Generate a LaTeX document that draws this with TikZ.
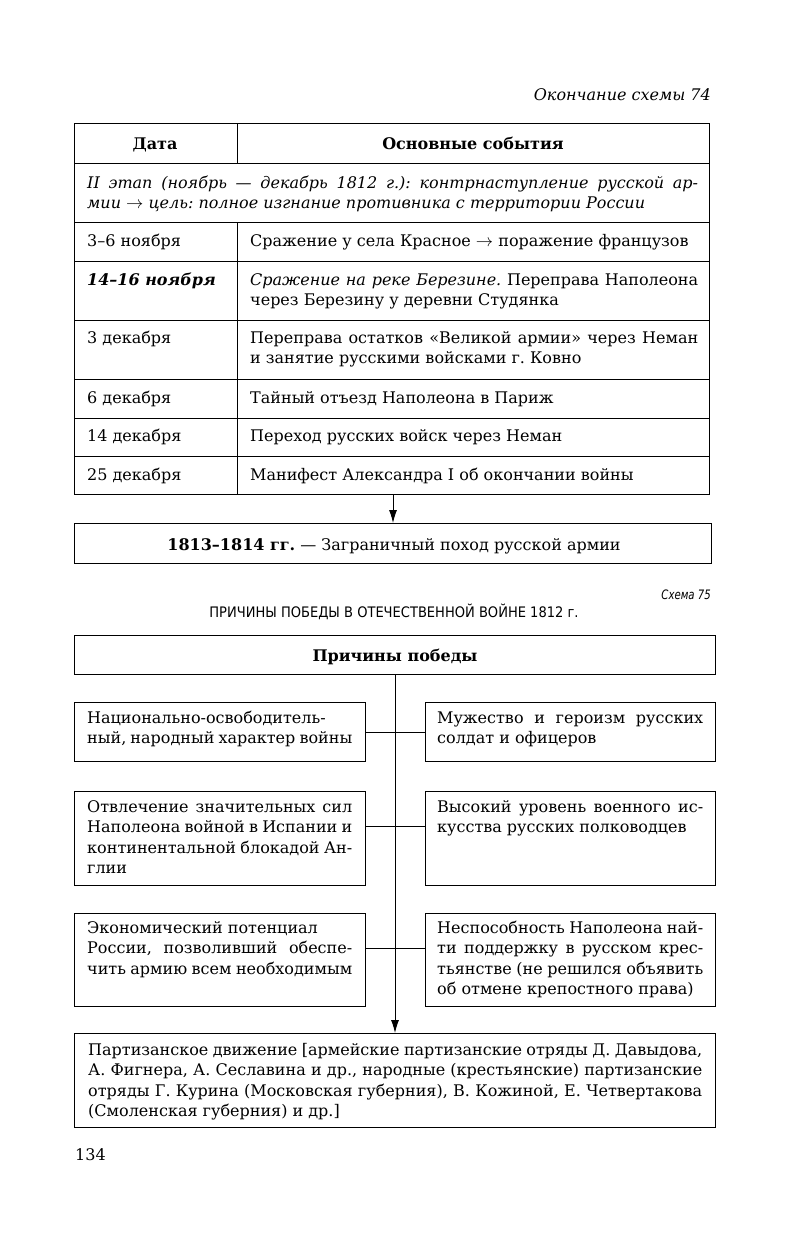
\documentclass[tikz,border=0pt]{standalone}
\usepackage{fontspec}
\setmainfont{DejaVu Serif}
\newfontfamily\sansnarrow[FakeStretch=0.9]{DejaVu Sans}
\newfontfamily\sansnarrowit[FakeStretch=0.78]{DejaVu Sans}
\usetikzlibrary{arrows.meta}
\frenchspacing
\newcommand\bodyfont{\fontsize{16}{20.5}\selectfont\frenchspacing\hyphenpenalty=10000\exhyphenpenalty=10000\tolerance=10000\hbadness=10000}
\begin{document}
\begin{tikzpicture}[x=1pt,y=-1pt,
  frame/.style={draw, line width=1pt, inner sep=0pt, anchor=north west},
  txt/.style={anchor=base west, inner sep=0pt, align=justify, font=\bodyfont},
  ctxt/.style={anchor=base, inner sep=0pt, font=\bodyfont},
  conn/.style={line width=0.9pt},
  arr/.style={line width=0.9pt, -{Latex[length=13pt,width=8pt]}}]
\useasboundingbox (0,0) rectangle (791,1245);

% ---------- header ----------
\node[anchor=base east, inner sep=0pt, font=\bodyfont\itshape] (cont) at (711,100) {Окончание схемы 74};

% ---------- table ----------
\node[frame, minimum width=163, minimum height=40] (hd) at (74,123) {};
\node[frame, minimum width=472, minimum height=40] (he) at (237,123) {};
\node[ctxt, font=\bodyfont\bfseries] (hdt) at (155,149) {Дата};
\node[ctxt, font=\bodyfont\bfseries] (het) at (473,149) {Основные события};

\node[frame, minimum width=635, minimum height=59] (stage) at (74,163) {};
\node[txt, text width=611, font=\bodyfont\itshape] (staget) at (87,188) {II этап (ноябрь --- декабрь 1812 г.): контрнаступление русской ар-\linebreak мии $\rightarrow$ цель: полное изгнание противника с~территории России};

% row 1
\node[frame, minimum width=163, minimum height=39] (d1) at (74,222) {};
\node[frame, minimum width=472, minimum height=39] (e1) at (237,222) {};
\node[txt] (d1t) at (87,246) {3--6 ноября};
\node[txt, text width=448] (e1t) at (250,246) {Сражение у села Красное $\rightarrow$ поражение французов};
% row 2
\node[frame, minimum width=163, minimum height=59] (d2) at (74,261) {};
\node[frame, minimum width=472, minimum height=59] (e2) at (237,261) {};
\node[txt, font=\bodyfont\bfseries\itshape] (d2t) at (87,285) {14--16 ноября};
\node[txt, text width=448] (e2t) at (250,285) {\textit{Сражение на реке Березине.} Переправа Наполеона\linebreak через Березину у деревни Студянка};
% row 3
\node[frame, minimum width=163, minimum height=59] (d3) at (74,320) {};
\node[frame, minimum width=472, minimum height=59] (e3) at (237,320) {};
\node[txt] (d3t) at (87,343) {3 декабря};
\node[txt, text width=448] (e3t) at (250,343) {Переправа остатков «Великой армии» через Неман\linebreak и занятие русскими войсками г. Ковно};
% row 4
\node[frame, minimum width=163, minimum height=39] (d4) at (74,379) {};
\node[frame, minimum width=472, minimum height=39] (e4) at (237,379) {};
\node[txt] (d4t) at (87,403) {6 декабря};
\node[txt, text width=448] (e4t) at (250,403) {Тайный отъезд Наполеона в Париж};
% row 5
\node[frame, minimum width=163, minimum height=38] (d5) at (74,418) {};
\node[frame, minimum width=472, minimum height=38] (e5) at (237,418) {};
\node[txt] (d5t) at (87,441) {14 декабря};
\node[txt, text width=448] (e5t) at (250,441) {Переход русских войск через Неман};
% row 6
\node[frame, minimum width=163, minimum height=38] (d6) at (74,456) {};
\node[frame, minimum width=472, minimum height=38] (e6) at (237,456) {};
\node[txt] (d6t) at (87,480) {25 декабря};
\node[txt, text width=448] (e6t) at (250,480) {Манифест Александра I об окончании войны};

% ---------- 1813 box ----------
\node[frame, minimum width=637, minimum height=40] (campaign) at (74,523) {};
\node[ctxt] (campaignt) at (394,550) {\textbf{1813--1814 гг.} --- Заграничный поход русской армии};
\coordinate (tabbot) at (393,494);
\draw[arr] (tabbot) -- (tabbot |- campaign.north);

% ---------- scheme 75 ----------
\node[anchor=base east, inner sep=0pt, font=\fontsize{13}{15}\sansnarrowit\itshape] (sch) at (711,599) {Схема 75};
\node[anchor=base, inner sep=0pt, font=\fontsize{14.5}{16}\sansnarrow] (title) at (394,617) {ПРИЧИНЫ ПОБЕДЫ В ОТЕЧЕСТВЕННОЙ ВОЙНЕ 1812 г.};

\node[frame, minimum width=641, minimum height=39] (causes) at (74,635) {};
\node[ctxt, font=\bodyfont\bfseries] (causest) at (395,661) {Причины победы};

% left / right boxes
\node[frame, minimum width=291, minimum height=59] (L1) at (74,702) {};
\node[frame, minimum width=290, minimum height=59] (R1) at (425,702) {};
\node[frame, minimum width=291, minimum height=94] (L2) at (74,791) {};
\node[frame, minimum width=290, minimum height=94] (R2) at (425,791) {};
\node[frame, minimum width=291, minimum height=93] (L3) at (74,913) {};
\node[frame, minimum width=290, minimum height=93] (R3) at (425,913) {};

\node[txt, text width=265] (L1t) at (87,723) {Национально-освободитель-\linebreak ный, народный характер войны};
\node[txt, text width=266] (R1t) at (437,723) {Мужество и героизм русских\linebreak солдат и офицеров};
\node[txt, text width=265] (L2t) at (87,812) {Отвлечение значительных сил\linebreak Наполеона войной в Испании и\linebreak континентальной блокадой Ан-\linebreak глии};
\node[txt, text width=266] (R2t) at (437,812) {Высокий уровень военного ис-\linebreak кусства русских полководцев};
\node[txt, text width=265] (L3t) at (87,933) {Экономический потенциал\\ России, позволивший обеспе-\linebreak чить армию всем необходимым};
\node[txt, text width=266] (R3t) at (437,933) {Неспособность Наполеона най-\linebreak ти поддержку в русском крес-\linebreak тьянстве (не решился объявить\linebreak об отмене крепостного права)};

% bottom box
\node[frame, minimum width=641, minimum height=94] (partisan) at (74,1033) {};
\node[txt, text width=614] (partisant) at (88,1055) {Партизанское движение [армейские партизанские отряды Д. Давыдова,\linebreak А. Фигнера, А. Сеславина и др., народные (крестьянские) партизанские\linebreak отряды Г. Курина (Московская губерния), В. Кожиной, Е. Четвертакова\linebreak (Смоленская губерния) и~др.]};

% connectors
\coordinate (spine) at (395,0);
\coordinate (c1) at (395,732);
\coordinate (c2) at (395,826);
\coordinate (c3) at (395,948);
\draw[arr] (spine |- causes.south) -- (spine |- partisan.north);
\draw[conn] (L1.east |- c1) -- (R1.west |- c1);
\draw[conn] (L2.east |- c2) -- (R2.west |- c2);
\draw[conn] (L3.east |- c3) -- (R3.west |- c3);

% page number
\node[anchor=base west, inner sep=0pt, font=\bodyfont] (page) at (75,1160) {134};
\end{tikzpicture}
\end{document}
